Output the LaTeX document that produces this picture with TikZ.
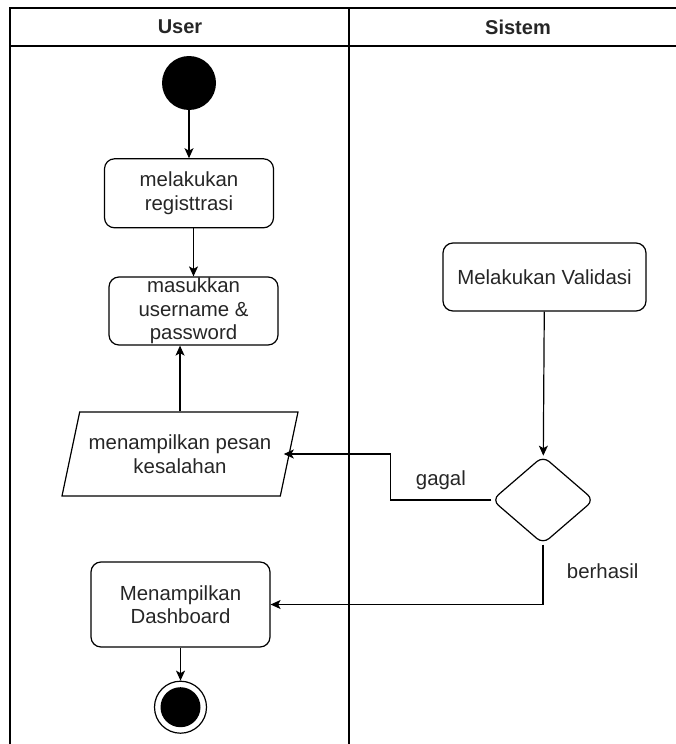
\documentclass[tikz,border=0pt]{standalone}
\usepackage{fontspec}
\setmainfont{Liberation Sans}
\usetikzlibrary{arrows.meta, calc, positioning, shapes.geometric}

\begin{document}
\begin{tikzpicture}[
    x=1pt, y=-1pt,
    >={Stealth[length=10pt, width=9pt, inset=2.5pt]},
    every node/.style={font=\fontsize{20.4}{23.5}\selectfont, text=black!85},
    lane/.style  ={line width=2pt},
    head/.style  ={font=\fontsize{20}{24}\selectfont\bfseries},
    act/.style   ={draw, rounded corners=10pt, line width=1.2pt, align=center,
                   inner xsep=2pt, inner ysep=1pt},
    start/.style ={circle, fill=black, minimum size=54pt, inner sep=0pt},
    stop/.style  ={circle, draw, line width=1.2pt, minimum size=52pt, inner sep=0pt,
                   path picture={\fill[black] (path picture bounding box.center) circle (20pt);}},
    msg/.style   ={draw, trapezium, trapezium left angle=68.6, trapezium right angle=111.4,
                   trapezium stretches body, line width=1.2pt, align=center,
                   inner xsep=0pt, minimum width=236pt, minimum height=84pt},
    choice/.style={draw, diamond, rounded corners=8pt, line width=1.2pt, inner sep=0pt,
                   minimum width=102pt, minimum height=88pt},
    flow/.style  ={->, line width=1.2pt},
]
\useasboundingbox (0,0) rectangle (675,744);

% swimlanes
\draw[lane] (10,8) rectangle (687,770);
\draw[lane] (10,46) -- (687,46);
\draw[lane] (349,8) -- (349,770);
\node[head] (huser) at (180,27) {User};
\node[head] (hsis)  at (518,27) {Sistem};

% user lane
\node[start] (mulai) at (189,83) {};
\node[act, minimum width=169pt, minimum height=69pt, below=48pt of mulai] (reg)
   {melakukan\\registtrasi};
\node[act, minimum width=169pt, minimum height=68pt] (login) at (193.5,311)
   {masukkan\\username \&\\password};
\node[msg] (err) at (180,454) {menampilkan pesan\\kesalahan};
\coordinate (errin) at ($(err.top right corner)!.5!(err.bottom right corner)$);
\node[act, minimum width=179pt, minimum height=85pt] (dash) at (180.5,604.5)
   {Menampilkan\\Dashboard};
\node[stop, below=33pt of dash] (selesai) {};

% sistem lane
\node[act, minimum width=203pt, minimum height=68pt] (valid) at (544.5,277)
   {Melakukan Validasi};
\node[choice] (cek) at (543,500) {};

\draw[flow] (mulai) -- (reg);
\draw[flow] (login.north |- reg.south) -- (login.north);
\draw[flow] (err.north) -- (err.north |- login.south);
\draw[flow] (valid) -- (cek);
% gagal / berhasil branches
\draw[flow, shorten >=-6pt] (cek.west) -- node[above=6pt]{gagal} ++(-101,0) |- (errin);
\draw[flow] (cek.south) |- node[pos=0.22, right=20pt]{berhasil} (dash.east);
\draw[flow] (dash) -- (selesai);
\end{tikzpicture}
\end{document}
